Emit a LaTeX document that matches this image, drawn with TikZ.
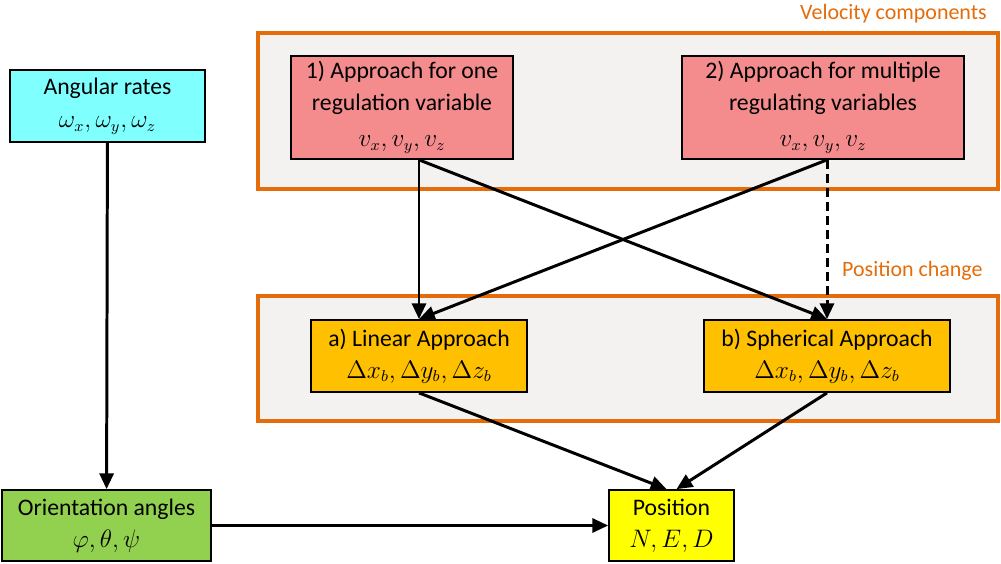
\documentclass[tikz,border=0pt]{standalone}
\usepackage{fontspec}
\setmainfont{Carlito}
\usepackage{tikz}
\usetikzlibrary{arrows.meta, positioning, calc}
\definecolor{framecol}{HTML}{E46C0A}
\definecolor{framebg}{HTML}{F3F2F0}
\definecolor{ratecol}{HTML}{80FFFF}
\definecolor{velcol}{HTML}{F48C8E}
\definecolor{poscol}{HTML}{FFC000}
\definecolor{anglecol}{HTML}{92D050}
\definecolor{endcol}{HTML}{FFFF00}

\begin{document}
\begin{tikzpicture}[x=0.02cm, y=-0.02cm, box/.style={draw, line width=1pt, align=center, inner sep=2pt, font=\fontsize{13.5}{17}\selectfont}, group/.style={draw=framecol, fill=framebg, line width=1.8pt}, note/.style={text=framecol, font=\fontsize{12.5}{15}\selectfont}, flow/.style={-{Triangle[length=9pt,width=8pt]}, line width=1.7pt}]
        \useasboundingbox (0,0) rectangle (1001,564);
        \draw[group] (258,33) rectangle (998,189);
        \draw[group] (258,296) rectangle (998,421);
        \node[note, anchor=east] (vlabel) at (993,14) {Velocity components};
        \node[note, anchor=west] (plabel) at (836,271) {Position change};
        \node[box, fill=ratecol, minimum width=3.9cm, minimum height=1.44cm] (rates) at (107.5,106) {Angular rates\\[2pt] $\omega_x,\omega_y,\omega_z$};
        \node[box, fill=velcol, minimum width=4.44cm, minimum height=2.06cm] (app1) at (402,107.5) {1) Approach for one\\[1pt] regulation variable\\[4pt] $v_x,v_y,v_z$};
        \node[box, fill=velcol, minimum width=5.64cm, minimum height=2.06cm] (app2) at (823,107.5) {2) Approach for multiple\\[1pt] regulating variables\\[4pt] $v_x,v_y,v_z$};
        \node[box, fill=poscol, minimum width=4.32cm, minimum height=1.44cm] (lin) at (419,356) {a) Linear Approach\\[1pt] $\Delta x_b,\Delta y_b,\Delta z_b$};
        \node[box, fill=poscol, minimum width=4.92cm, minimum height=1.44cm] (sph) at (827,356) {b) Spherical Approach\\[1pt] $\Delta x_b,\Delta y_b,\Delta z_b$};
        \node[box, fill=anglecol, minimum width=4.18cm, minimum height=1.42cm] (orient) at (106.5,525.5) {Orientation angles\\[1pt] $\varphi,\theta,\psi$};
        \node[box, fill=endcol, minimum width=2.5cm, minimum height=1.42cm] (pos) at (671.5,525.5) {Position\\[1pt] $N,E,D$};
        \draw[flow] (rates) -- (orient);
        \draw[flow] (app1.south -| lin.north) -- (lin.north);
        \draw[flow] (app1.south -| lin.north) -- (sph.north);
        \draw[flow] (app2.south -| sph.north) -- (lin.north);
        \draw[flow, dash pattern=on 5pt off 3pt] (app2.south -| sph.north) -- (sph.north);
        \draw[flow] (lin.south) -- ($(pos.north)+(-5,0)$);
        \draw[flow] (sph.south) -- ($(pos.north)+(5,0)$);
        \draw[flow] (orient) -- (pos);
    \end{tikzpicture}
\end{document}
